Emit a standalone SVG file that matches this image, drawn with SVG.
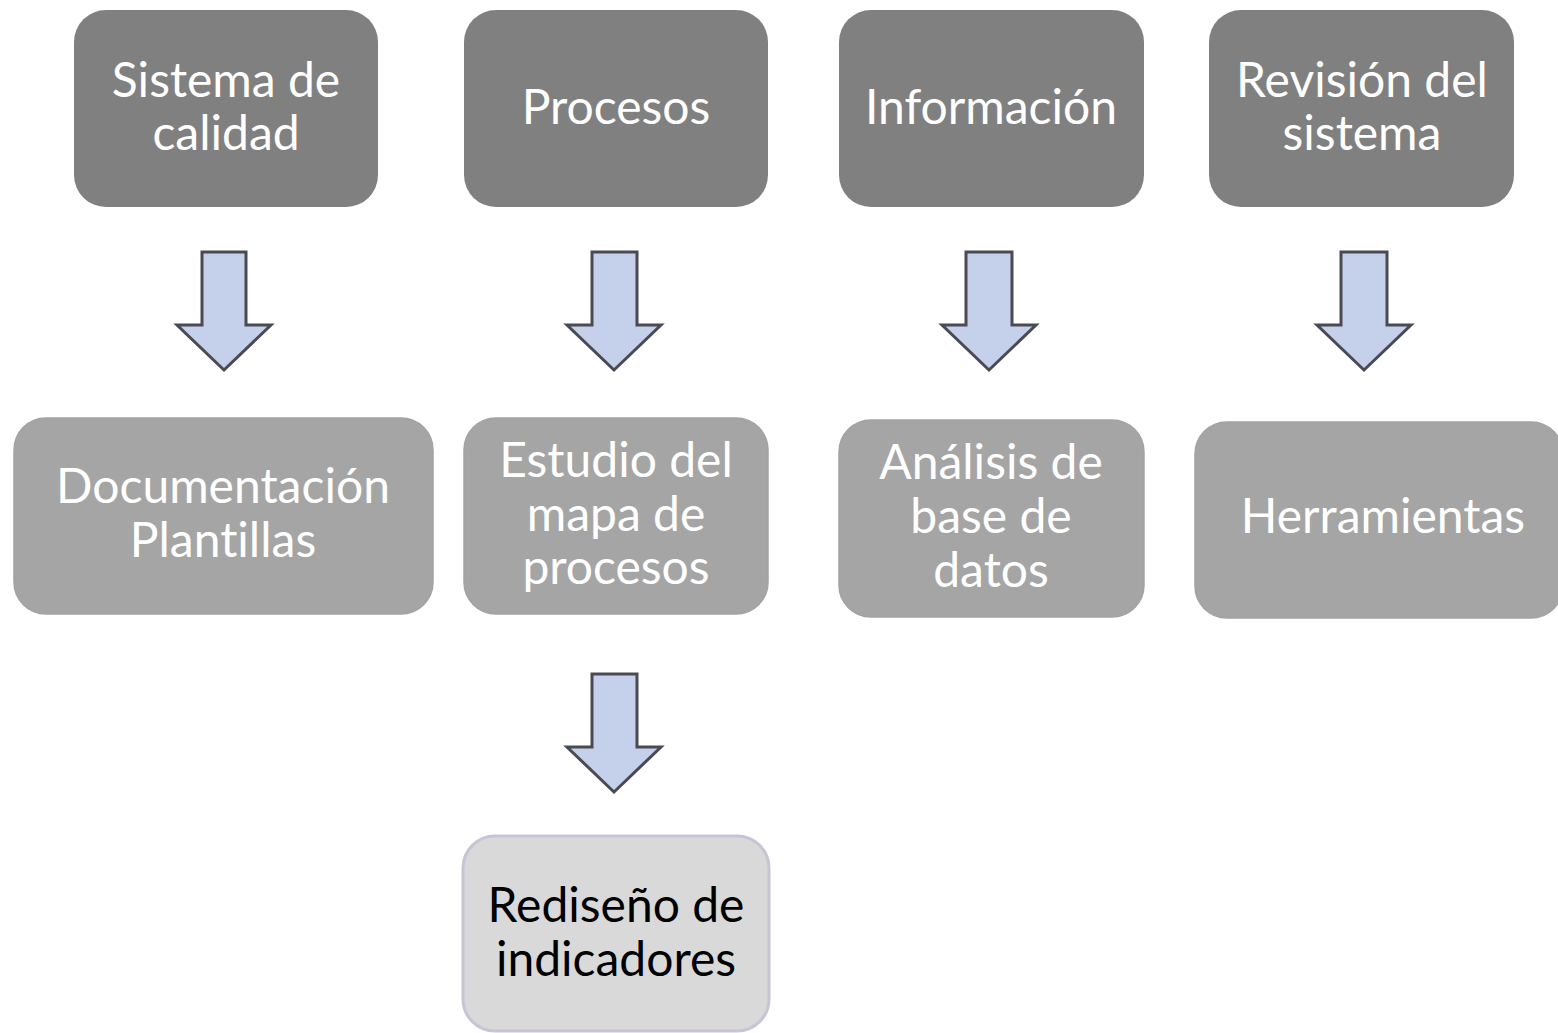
<svg xmlns="http://www.w3.org/2000/svg" width="1558" height="1033" viewBox="0 0 1558 1033">
<style>
.top{fill:#808080}
.mid{fill:#a5a5a5;stroke:#a3a2a8;stroke-width:1.5}
.bot{fill:#d9d9d9;stroke:#c9c3d6;stroke-width:3}
.t{font-family:Lato,"Liberation Sans",sans-serif;font-size:48px;fill:#ffffff;text-anchor:middle;font-variant-ligatures:none;font-feature-settings:"liga" 0}
.tb{fill:#000000}
.arr{fill:#c5d0ea;stroke:#4a4a55;stroke-width:3;stroke-linejoin:miter}
</style>
<rect width="1558" height="1033" fill="#ffffff"/>
<g id="n1"><rect class="top" x="74" y="10" width="304" height="197" rx="32"/><text class="t" x="226" y="97">Sistema de</text><text class="t" x="226" y="150">calidad</text></g>
<g id="n2"><rect class="top" x="464" y="10" width="304" height="197" rx="32"/><text class="t" x="616" y="124">Procesos</text></g>
<g id="n3"><rect class="top" x="839" y="10" width="305" height="197" rx="32"/><text class="t" x="991" y="124">Información</text></g>
<g id="n4"><rect class="top" x="1209" y="10" width="305" height="197" rx="32"/><text class="t" x="1362" y="97">Revisión del</text><text class="t" x="1362" y="150">sistema</text></g>
<g id="n5"><rect class="mid" x="14" y="418" width="419" height="196" rx="32"/><text class="t" x="223" y="503">Documentación</text><text class="t" x="223" y="557">Plantillas</text></g>
<g id="n6"><rect class="mid" x="464" y="418" width="304" height="196" rx="32"/><text class="t" x="616" y="477">Estudio del</text><text class="t" x="616" y="531">mapa de</text><text class="t" x="616" y="584">procesos</text></g>
<g id="n7"><rect class="mid" x="839" y="420" width="305" height="197" rx="32"/><text class="t" x="991" y="479">Análisis de</text><text class="t" x="991" y="533">base de</text><text class="t" x="991" y="587">datos</text></g>
<g id="n8"><rect class="mid" x="1195" y="422" width="368" height="196" rx="32"/><text class="t" x="1383" y="533">Herramientas</text></g>
<g id="n9"><rect class="bot" x="463" y="836" width="306" height="195" rx="32"/><text class="t tb" x="616" y="922">Rediseño de</text><text class="t tb" x="616" y="976">indicadores</text></g>
<g id="connectors">
<path class="arr" d="M202,252 H246 V325 H271 L224,370 L177,325 H202 Z"/>
<path class="arr" d="M592,252 H637 V325 H661 L614,370 L567,325 H592 Z"/>
<path class="arr" d="M966,252 H1012 V325 H1036 L989,370 L942,325 H966 Z"/>
<path class="arr" d="M1341,252 H1387 V325 H1411 L1364,370 L1317,325 H1341 Z"/>
<path class="arr" d="M592,674 H637 V747 H661 L614,792 L567,747 H592 Z"/>
</g>
</svg>
